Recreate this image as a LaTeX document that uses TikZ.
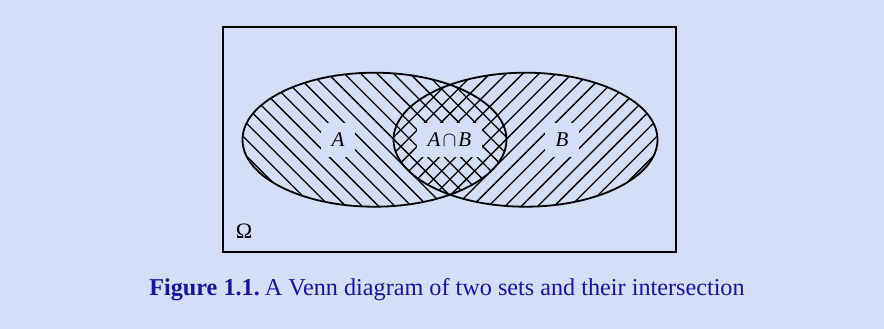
\documentclass[tikz,border=0pt]{standalone}
\usepackage{fontspec}
\setmainfont{Liberation Serif}
\definecolor{bgblue}{RGB}{212,222,247}
\definecolor{capblue}{RGB}{22,22,150}
\tikzset{
  hatch/.style={line width=1.3pt, black},
  outline/.style={line width=1.8pt, black},
  setlabel/.style={fill=bgblue, inner xsep=10.5pt, inner ysep=0pt, minimum height=34pt, font=\fontsize{21}{22}\selectfont},
}
\begin{document}
\begin{tikzpicture}[x=1pt,y=-1pt]
\fill[bgblue] (0,0) rectangle (884,329);
\useasboundingbox (0,0) rectangle (884,329);
% hatching of A
\begin{scope}
\clip (374.5,139.7) ellipse [x radius=132, y radius=67];
\foreach \k in {0,...,27} {
  \draw[hatch] ({24.8+16.4*\k-160},-160) -- ++(400,400);
}
\end{scope}
% hatching of B
\begin{scope}
\clip (525.5,139.7) ellipse [x radius=132, y radius=67];
\foreach \k in {0,...,27} {
  \draw[hatch] ({875.2-16.4*\k+160},-160) -- ++(-400,400);
}
\end{scope}
\draw[outline] (374.5,139.7) ellipse [x radius=132, y radius=67];
\draw[outline] (525.5,139.7) ellipse [x radius=132, y radius=67];
\node[setlabel] (A) at (338,140) {\textit{A}};
\node[setlabel] (AB) at (449.5,140) {\textit{A}\kern2pt$\cap$\kern2pt\textit{B}};
\node[setlabel] (B) at (562,140) {\textit{B}};
\draw[line width=1.8pt] (223.3,27.3) rectangle (675.7,251.7);
\node[anchor=base, font=\fontsize{22}{24}\selectfont] (omega) at (244,238) {Ω};
\node[anchor=base, text=capblue, font=\fontsize{24.2}{26}\selectfont] (cap) at (447,295) {\textbf{Figure 1.1.}\kern5pt A Venn diagram of two sets and their intersection};
\end{tikzpicture}
\end{document}
